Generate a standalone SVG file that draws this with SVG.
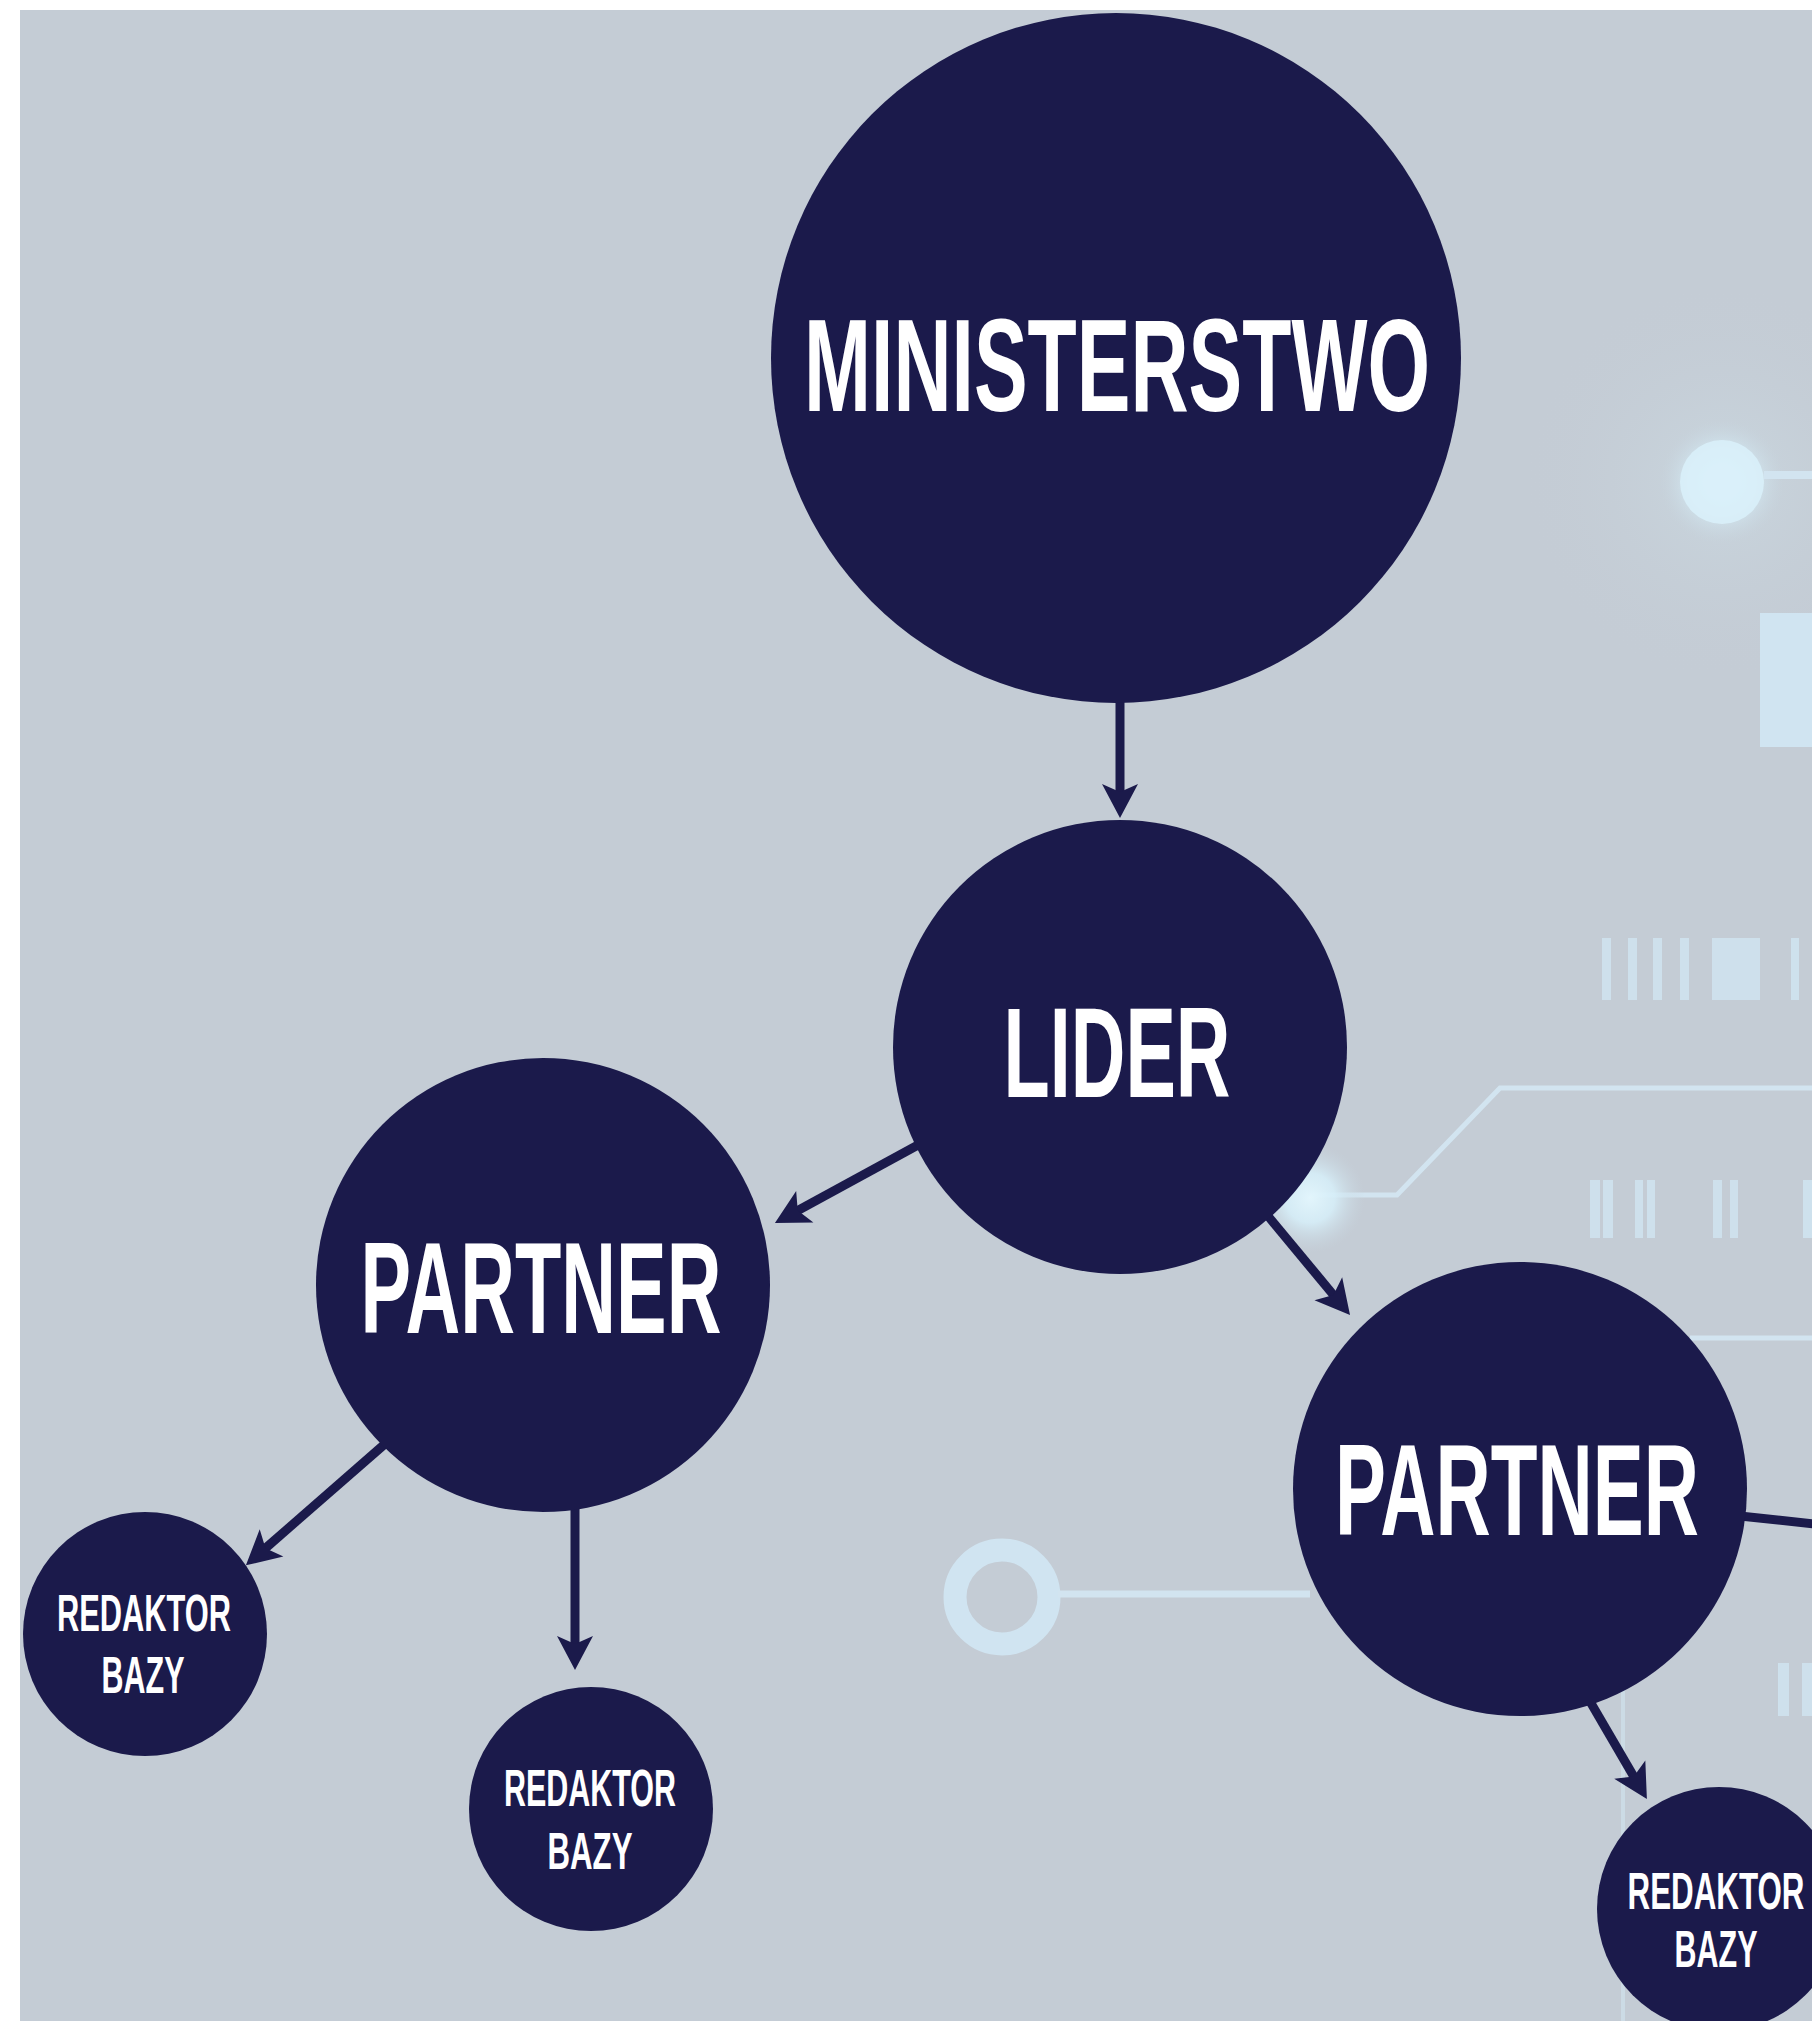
<svg xmlns="http://www.w3.org/2000/svg" width="1812" height="2021" viewBox="0 0 1812 2021">
<style>
.node{fill:#1b1a4b}
.lbl{fill:#ffffff;font-family:"Liberation Sans Narrow","Liberation Sans","DejaVu Sans",sans-serif;font-weight:bold;text-anchor:middle}
.conn{stroke:#1b1a4b;stroke-width:9;fill:none}
.trace{stroke:#d2e4f0;fill:none}
.pad{fill:#d0e4f1}
</style>
<defs>
<marker id="arr" markerUnits="userSpaceOnUse" viewBox="-12 -20 40 40" refX="0" refY="0" markerWidth="40" markerHeight="40" orient="auto">
<path d="M24,0 L-10,-18 L-2,0 L-10,18 Z" fill="#1b1a4b"/>
</marker>
<radialGradient id="glow" cx="0.5" cy="0.5" r="0.5">
<stop offset="0" stop-color="#e2f5fc" stop-opacity="1"/>
<stop offset="0.45" stop-color="#d6eef8" stop-opacity="0.9"/>
<stop offset="1" stop-color="#c8d6e0" stop-opacity="0"/>
</radialGradient>
<radialGradient id="halo" cx="0.5" cy="0.5" r="0.5">
<stop offset="0" stop-color="#ccdbe3" stop-opacity="0.7"/>
<stop offset="1" stop-color="#c4ccd5" stop-opacity="0"/>
</radialGradient>
</defs>
<rect x="0" y="0" width="1812" height="2021" fill="#ffffff"/>
<rect x="20" y="10" width="1792" height="2011" fill="#c4ccd5"/>
<g id="background-circuit">
<circle cx="1722" cy="482" r="200" fill="url(#halo)"/>
<circle cx="1722" cy="482" r="62" fill="url(#glow)"/>
<circle cx="1722" cy="482" r="42" fill="#d9eff9" opacity="0.9"/>
<line class="trace" x1="1764" y1="475" x2="1812" y2="475" stroke-width="8"/>
<rect class="pad" x="1760" y="613" width="52" height="134"/>
<g class="pad" opacity="0.85">
<rect x="1602" y="938" width="9" height="62"/>
<rect x="1628" y="938" width="9" height="62"/>
<rect x="1653" y="938" width="9" height="62"/>
<rect x="1680" y="938" width="9" height="62"/>
<rect x="1712" y="938" width="48" height="62"/>
<rect x="1791" y="938" width="8" height="62"/>
</g>
<polyline class="trace" points="1812,1088 1500,1088 1397,1195 1310,1195" stroke-width="5"/>
<circle cx="1310" cy="1198" r="55" fill="url(#glow)"/>
<g class="pad" opacity="0.85">
<rect x="1590" y="1180" width="10" height="58"/>
<rect x="1603" y="1180" width="10" height="58"/>
<rect x="1635" y="1180" width="8" height="58"/>
<rect x="1647" y="1180" width="8" height="58"/>
<rect x="1713" y="1180" width="9" height="58"/>
<rect x="1730" y="1180" width="8" height="58"/>
<rect x="1803" y="1180" width="9" height="58"/>
</g>
<line class="trace" x1="1690" y1="1338" x2="1812" y2="1338" stroke-width="5"/>
<line class="trace" x1="1623" y1="1677" x2="1623" y2="2021" stroke-width="4" opacity="0.6"/>
<g class="pad" opacity="0.85">
<rect x="1778" y="1663" width="11" height="53"/>
<rect x="1802" y="1663" width="10" height="53"/>
</g>
<circle cx="1002" cy="1597" r="47" fill="none" stroke="#d0e4f1" stroke-width="23"/>
<line class="trace" x1="1058" y1="1594" x2="1310" y2="1594" stroke-width="7"/>
</g>
<g id="connectors">
<line class="conn" x1="1120" y1="700" x2="1120" y2="794" marker-end="url(#arr)"/>
<line class="conn" x1="918" y1="1145" x2="796" y2="1211.5" marker-end="url(#arr)"/>
<line class="conn" x1="1268" y1="1216" x2="1334.7" y2="1296.5" marker-end="url(#arr)"/>
<line class="conn" x1="386" y1="1443" x2="264" y2="1549.5" marker-end="url(#arr)"/>
<line class="conn" x1="575" y1="1505" x2="575" y2="1646" marker-end="url(#arr)"/>
<line class="conn" x1="1588" y1="1698" x2="1634.8" y2="1778.3" marker-end="url(#arr)"/>
<line class="conn" x1="1740" y1="1516" x2="1815" y2="1524"/>
</g>
<g id="ministerstwo">
<circle class="node" cx="1116" cy="358" r="345"/>
<text class="lbl" x="1117" y="411" font-size="131" textLength="626" lengthAdjust="spacingAndGlyphs">MINISTERSTWO</text>
</g>
<g id="lider">
<circle class="node" cx="1120" cy="1047" r="227"/>
<text class="lbl" x="1117" y="1097" font-size="128" textLength="227" lengthAdjust="spacingAndGlyphs">LIDER</text>
</g>
<g id="partner-left">
<circle class="node" cx="543" cy="1285" r="227"/>
<text class="lbl" x="541" y="1333" font-size="130" textLength="361" lengthAdjust="spacingAndGlyphs">PARTNER</text>
</g>
<g id="partner-right">
<circle class="node" cx="1520" cy="1489" r="227"/>
<text class="lbl" x="1517" y="1535" font-size="130" textLength="364" lengthAdjust="spacingAndGlyphs">PARTNER</text>
</g>
<g id="redaktor-left">
<circle class="node" cx="145" cy="1634" r="122"/>
<text class="lbl" x="144" y="1631" font-size="52" textLength="174" lengthAdjust="spacingAndGlyphs">REDAKTOR</text>
<text class="lbl" x="143" y="1693" font-size="52" textLength="83" lengthAdjust="spacingAndGlyphs">BAZY</text>
</g>
<g id="redaktor-middle">
<circle class="node" cx="591" cy="1809" r="122"/>
<text class="lbl" x="590" y="1806" font-size="52" textLength="172" lengthAdjust="spacingAndGlyphs">REDAKTOR</text>
<text class="lbl" x="590" y="1869" font-size="52" textLength="85" lengthAdjust="spacingAndGlyphs">BAZY</text>
</g>
<g id="redaktor-right">
<circle class="node" cx="1719" cy="1909" r="122"/>
<text class="lbl" x="1716" y="1909" font-size="52" textLength="177" lengthAdjust="spacingAndGlyphs">REDAKTOR</text>
<text class="lbl" x="1716" y="1967" font-size="52" textLength="83" lengthAdjust="spacingAndGlyphs">BAZY</text>
</g>
</svg>
